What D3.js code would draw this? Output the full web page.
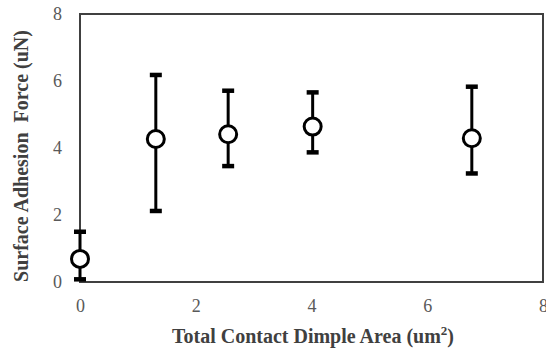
<!DOCTYPE html>
<html>
<head>
<meta charset="utf-8">
<script src="https://cdn.jsdelivr.net/npm/d3@7"></script>
<style>
  body { margin: 0; background: #fff; }
  text { font-family: "Liberation Serif", "Times New Roman", serif; }
</style>
</head>
<body>
<div id="chart"></div>
<script>
// data
const areas = [0, 1.31, 2.56, 4.02, 6.77];
const forces = [0.69, 4.27, 4.41, 4.64, 4.29];
const upper = [1.5, 6.18, 5.71, 5.66, 5.83];
const lower = [0.08, 2.12, 3.46, 3.87, 3.24];
const tickVals = [0, 2, 4, 6, 8];

const W = 546, H = 352;
const margin = { top: 14, right: 3, bottom: 70, left: 80 };
const width = W - margin.left - margin.right,
  height = H - margin.top - margin.bottom;

const svg = d3.select("#chart").append("svg")
  .attr("width", W).attr("height", H);
const g = svg.append("g")
  .attr("transform", "translate(" + margin.left + "," + margin.top + ")");

const x = d3.scaleLinear().domain([0, 8]).range([0, width]);
const y = d3.scaleLinear().domain([0, 8]).range([height, 0]);

// frame
g.append("rect")
  .attr("x", 0).attr("y", 0)
  .attr("width", width).attr("height", height)
  .attr("fill", "none").attr("stroke", "#404040").attr("stroke-width", 2);

// axes (labels only, no tick marks)
const xAxis = g.append("g")
  .attr("transform", "translate(0," + height + ")")
  .call(d3.axisBottom(x).tickValues(tickVals).tickSize(0).tickPadding(17));
const yAxis = g.append("g")
  .call(d3.axisLeft(y).tickValues(tickVals).tickSize(0).tickPadding(18));
[xAxis, yAxis].forEach(a => {
  a.attr("font-family", "Liberation Serif, Times New Roman, serif")
    .attr("font-size", 18);
  a.select(".domain").remove();
  a.selectAll("text").attr("fill", "#595959");
});

const pts = areas.map((a, i) => ({ a: a, f: forces[i], hi: upper[i], lo: lower[i] }));

// error bars
g.selectAll(".err").data(pts).enter().append("line")
  .attr("x1", d => x(d.a)).attr("x2", d => x(d.a))
  .attr("y1", d => y(d.hi)).attr("y2", d => y(d.lo))
  .attr("stroke", "#000").attr("stroke-width", 3);
["hi", "lo"].forEach(k => {
  g.selectAll(".cap-" + k).data(pts).enter().append("line")
    .attr("x1", d => x(d.a) - 6).attr("x2", d => x(d.a) + 6)
    .attr("y1", d => y(d[k])).attr("y2", d => y(d[k]))
    .attr("stroke", "#000").attr("stroke-width", 4.5);
});

// markers
g.selectAll("circle").data(pts).enter().append("circle")
  .attr("cx", d => x(d.a)).attr("cy", d => y(d.f))
  .attr("r", 8.5)
  .attr("fill", "#fff").attr("stroke", "#000").attr("stroke-width", 3);

// axis titles
svg.append("text")
  .attr("x", 313).attr("y", 343)
  .attr("text-anchor", "middle")
  .attr("font-weight", "bold").attr("font-size", "20px").attr("fill", "#404040")
  .html("Total Contact Dimple Area (um<tspan dy='-8' font-size='13px'>2</tspan><tspan dy='8'>)</tspan>");

svg.append("text")
  .attr("transform", "translate(28,156) rotate(-90)")
  .attr("text-anchor", "middle")
  .attr("font-weight", "bold").attr("font-size", "20px").attr("fill", "#404040")
  .style("white-space", "pre")
  .text("Surface Adhesion  Force (uN)");
</script>
</body>
</html>
